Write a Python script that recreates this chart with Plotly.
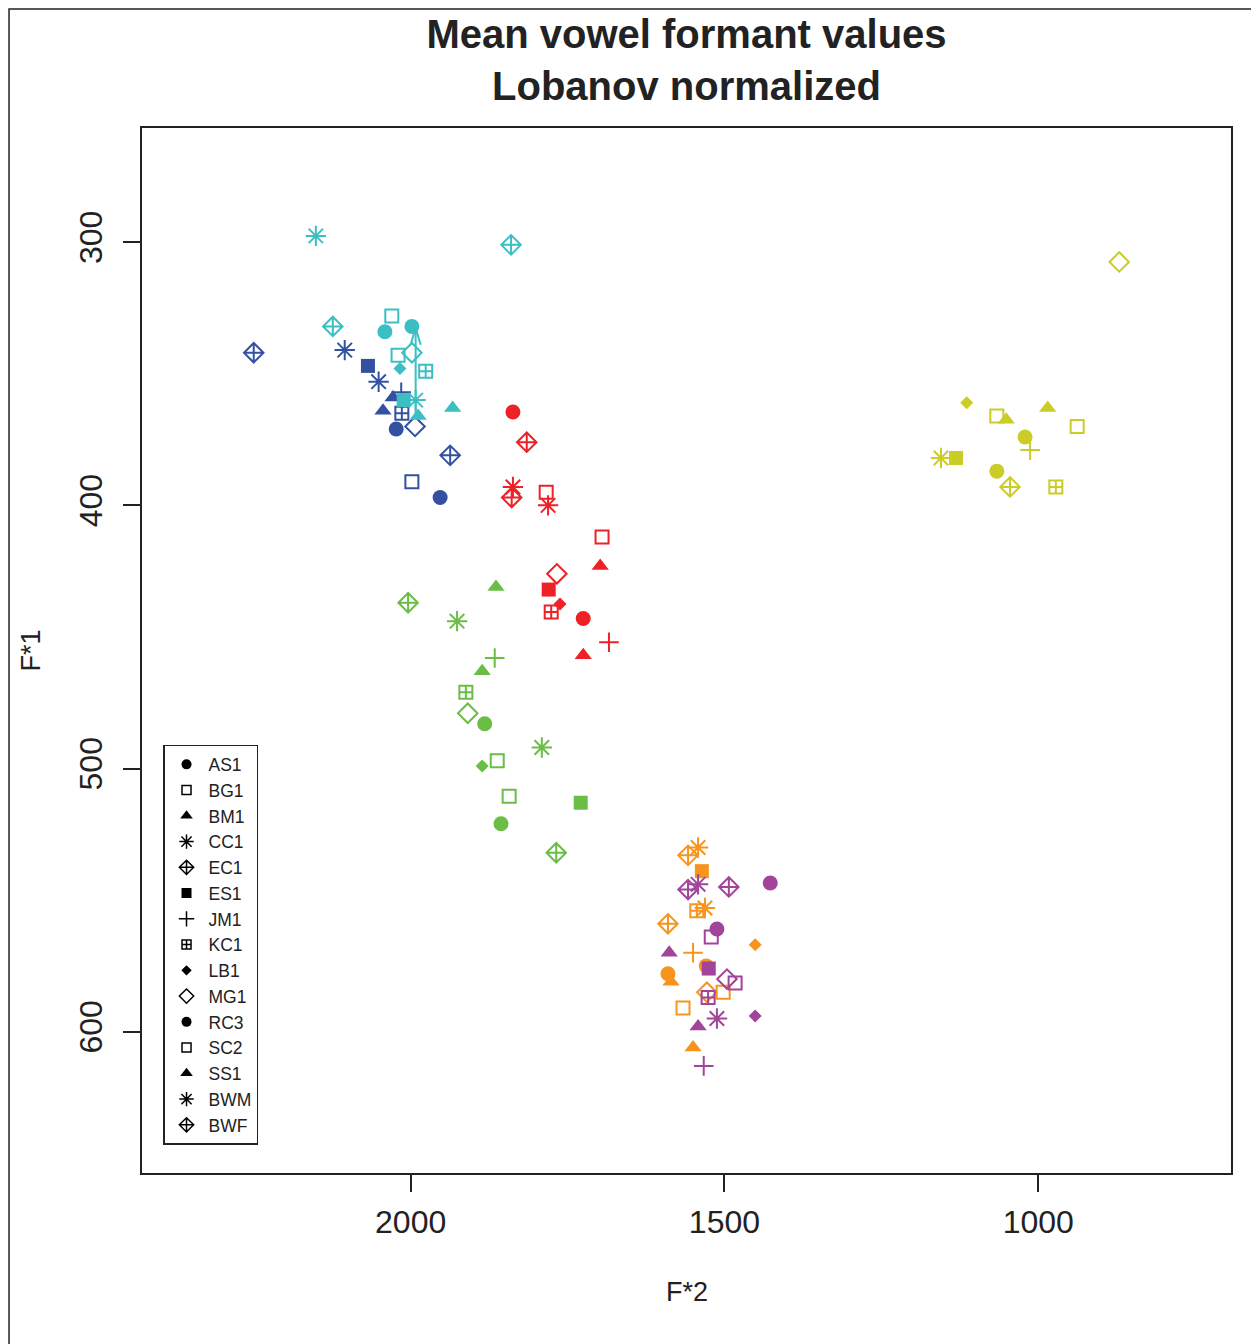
import plotly.graph_objects as go

# speakers, in legend order
speakers = ["AS1", "BG1", "BM1", "CC1", "EC1", "ES1", "JM1", "KC1",
            "LB1", "MG1", "RC3", "SC2", "SS1", "BWM", "BWF"]
symbols = ["circle", "square-open", "triangle-up", "asterisk-open",
           "diamond-cross-open", "square", "cross-thin-open",
           "square-cross-open", "diamond", "diamond-open", "circle",
           "square-open", "triangle-up", "asterisk-open", "diamond-cross-open"]

# vowel group colours (draw order)
vowels = ["blue", "cyan", "red", "green", "orange", "purple", "yellow"]
colors = {
    "cyan": "#3bbfc2", "blue": "#3351a0", "red": "#ee2127",
    "green": "#6abd45", "orange": "#f7941d", "purple": "#a2449a",
    "yellow": "#cccc29",
}

# mean normalized F2 / F1 per vowel, one value per speaker
f2 = {
    "cyan":   [2041, 2030, 1988, 1992, 2124, 2011, None, 1976, 2017, 1998, 1998, 2020, 1933, 2151, 1840],
    "blue":   [2023, 1998, 2028, 2105, 2250, 2068, 2015, 2014, None, 1993, 1953, None, 2044, 2051, 1937],
    "red":    [1837, 1784, 1698, 1837, 1815, 1780, 1684, 1776, 1762, 1767, 1725, 1695, 1725, 1781, 1839],
    "green":  [1882, 1862, 1864, 1926, 2004, 1729, 1866, 1912, 1886, 1909, 1856, 1843, 1886, 1791, 1768],
    "orange": [1529, 1502, 1585, 1542, 1558, 1536, 1550, 1544, 1451, 1528, 1590, 1566, 1550, 1531, 1590],
    "purple": [1427, 1521, 1588, 1542, 1558, 1525, 1533, 1526, 1451, 1496, 1512, 1483, 1542, 1512, 1493],
    "yellow": [1021, 1066, 1051, 1155, 1045, 1131, 1013, 972, 1114, 871, 1066, 938, 985, None, None],
}
f1 = {
    "cyan":   [334, 328, 366, 360, 332, 360, None, 349, 348, 342, 332, 343, 363, 297.6, 301],
    "blue":   [371, 391, 359, 341, 342, 347, 357, 365, None, 370, 397, None, 364, 353, 381],
    "red":    [364.5, 395, 423, 393, 376, 432, 452, 440.5, 437.5, 426, 443, 412, 457, 400, 397],
    "green":  [483, 497, 431, 444, 437, 513, 458, 471, 499, 479, 521, 510.5, 463, 492, 532],
    "orange": [575, 585, 581, 530, 533, 539, 570, 554, 567, 585, 578, 591, 606, 553, 559],
    "purple": [543.5, 564, 570, 544, 546, 576, 613, 587, 594, 580, 561, 581.5, 598, 595, 545],
    "yellow": [374, 366, 367.5, 382, 393, 382, 379, 393, 361, 307.5, 387, 370, 363, None, None],
}

# arrow drawn on the plot (F2, F1 start -> end)
arrow_from = (1992, 365.6)
arrow_to = (1992, 332.5)

plot_size = {"circle": 15, "square-open": 13, "triangle-up": 15, "asterisk-open": 17,
             "diamond-cross-open": 15, "square": 14, "cross-thin-open": 14,
             "square-cross-open": 13, "diamond": 10, "diamond-open": 15}
legend_size = {"circle": 10, "square-open": 9, "triangle-up": 11, "asterisk-open": 12,
               "diamond-cross-open": 11, "square": 10, "cross-thin-open": 11,
               "square-cross-open": 9, "diamond": 8, "diamond-open": 11}


def line_w(sym, w):
    return w if ("open" in sym) else 0


fig = go.Figure()

for v in vowels:
    c = colors[v]
    fig.add_trace(go.Scatter(
        x=f2[v], y=f1[v], mode="markers", showlegend=False,
        hovertext=speakers, name=v,
        marker=dict(
            symbol=symbols, color=c, opacity=1,
            size=[plot_size[s] for s in symbols],
            line=dict(color=c, width=[line_w(s, 2) for s in symbols]),
        ),
    ))

# legend entries in black
for spk, s in zip(speakers, symbols):
    fig.add_trace(go.Scatter(
        x=[None], y=[None], mode="markers", name=spk,
        marker=dict(symbol=s, color="black", size=legend_size[s], opacity=1,
                    line=dict(color="black", width=line_w(s, 1.5))),
    ))

# arrow: shaft plus open V head
ax0, ay0 = arrow_from
ax1, ay1 = arrow_to
cyan = colors["cyan"]
fig.add_shape(type="line", x0=ax0, y0=ay0, x1=ax1, y1=ay1,
              line=dict(color=cyan, width=2))
fig.add_shape(type="line", x0=ax1, y0=ay1, x1=ax1 + 8, y1=ay1 + 6.5,
              line=dict(color=cyan, width=2))
fig.add_shape(type="line", x0=ax1, y0=ay1, x1=ax1 - 8, y1=ay1 + 6.5,
              line=dict(color=cyan, width=2))

# outer frame round the whole figure
fig.add_shape(type="rect", xref="paper", yref="paper",
              x0=-0.1221, x1=1.0211, y0=-0.25, y1=1.1139,
              line=dict(color="#222222", width=1.5), fillcolor="rgba(0,0,0,0)")

fig.add_annotation(text="F*2", xref="paper", yref="paper", x=0.5, y=-0.1139,
                   showarrow=False, font=dict(size=27, color="#222222"),
                   yanchor="middle")
fig.add_annotation(text="F*1", xref="paper", yref="paper", x=-0.1028, y=0.5,
                   showarrow=False, textangle=-90,
                   font=dict(size=27, color="#222222"), xanchor="center")

fig.update_layout(
    width=1259, height=1344,
    margin=dict(l=134, r=36, t=120, b=179),
    paper_bgcolor="white", plot_bgcolor="white",
    font=dict(family="Liberation Sans, Arial, sans-serif", color="#222222"),
    title=dict(text="<b>Mean vowel formant values<br>Lobanov normalized</b>",
               x=0.5, xref="paper", xanchor="center",
               y=1 - 40 / 1344, yanchor="middle",
               font=dict(size=40, color="#222222")),
    xaxis=dict(range=[2428, 692.9], tickvals=[1000, 1500, 2000],
               ticks="outside", ticklen=17, tickwidth=1.5, tickcolor="#222222",
               showline=True, linecolor="#222222", linewidth=1.5, mirror=True,
               showgrid=False, zeroline=False,
               tickfont=dict(size=32), ticklabelstandoff=3),
    yaxis=dict(range=[653.7, 256.6], tickvals=[300, 400, 500, 600],
               ticks="outside", ticklen=17, tickwidth=1.5, tickcolor="#222222",
               showline=True, linecolor="#222222", linewidth=1.5, mirror=True,
               showgrid=False, zeroline=False, tickangle=-90,
               tickfont=dict(size=32), ticklabelstandoff=8),
    legend=dict(x=0.0193, y=0.4096, xanchor="left", yanchor="top",
                bordercolor="#222222", borderwidth=1.5, bgcolor="white",
                font=dict(size=17.5), tracegroupgap=0, itemwidth=34),
)

fig.write_html("out.html")
